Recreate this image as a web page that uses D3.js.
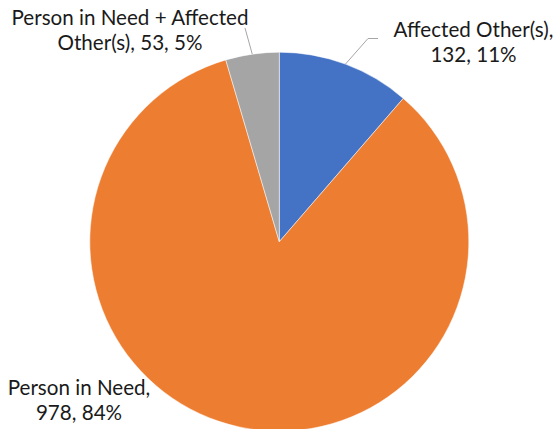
<!DOCTYPE html>
<html><head><meta charset="utf-8">
<script src="https://cdn.jsdelivr.net/npm/d3@7"></script>
<style>
html,body{margin:0;padding:0;background:#fff;}
svg{display:block;}
text{font-family:Lato,"Open Sans",sans-serif;fill:#1a1a1a;}
</style></head>
<body>
<script>
const categories = ["Affected Other(s)", "Person in Need", "Person in Need + Affected Other(s)"];
const values = [132, 978, 53];
const percentLabels = ["11%", "84%", "5%"];
const colors = ["#4472C4", "#ED7D31", "#A5A5A5"];

const W = 556, H = 429;
const cx = 279.3, cy = 241.7, R = 189.5;
const fontSize = 20.6, lineH = 25;

// label layout: centre x, first baseline y, line splits
const labelLayout = [
  {x: 473.5, y: 37, lines: d => [d.cat + ",", d.val + ", " + d.pct]},
  {x: 79, y: 395, lines: d => [d.cat + ",", d.val + ", " + d.pct]},
  {x: 130, y: 25, lines: d => ["Person in Need + Affected", "Other(s), " + d.val + ", " + d.pct]}
];
const leaders = [
  {elbow: [368, 38.5], end: [378, 38.5]},
  null,
  {elbow: null, end: [245, 28]}
];

const data = categories.map((c, i) => ({cat: c, val: values[i], pct: percentLabels[i], i}));

const svg = d3.select("body").append("svg").attr("width", W).attr("height", H);

const pie = d3.pie().value(d => d.val).sort(null);
const arc = d3.arc().innerRadius(0).outerRadius(R);
const arcs = pie(data);

const g = svg.append("g").attr("transform", `translate(${cx},${cy})`);
g.selectAll("path").data(arcs).enter().append("path")
  .attr("d", arc)
  .attr("fill", d => colors[d.data.i])
  .attr("stroke", "#fff").attr("stroke-width", 0.5);

// leader lines
arcs.forEach((a, i) => {
  const L = leaders[i];
  if (!L) return;
  const mid = (a.startAngle + a.endAngle) / 2;
  const p0 = [cx + R * Math.sin(mid), cy - R * Math.cos(mid)];
  const pts = [p0];
  if (L.elbow) pts.push(L.elbow);
  pts.push(L.end);
  svg.append("path")
    .attr("d", d3.line()(pts))
    .attr("fill", "none")
    .attr("stroke", "#A6A6A6")
    .attr("stroke-width", 1);
});

// labels
data.forEach((d, i) => {
  const L = labelLayout[i];
  const t = svg.append("text")
    .attr("text-anchor", "middle")
    .attr("font-size", fontSize);
  L.lines(d).forEach((ln, k) => {
    t.append("tspan").attr("x", L.x).attr("y", L.y + k * lineH).text(ln);
  });
});
</script>
</body></html>
